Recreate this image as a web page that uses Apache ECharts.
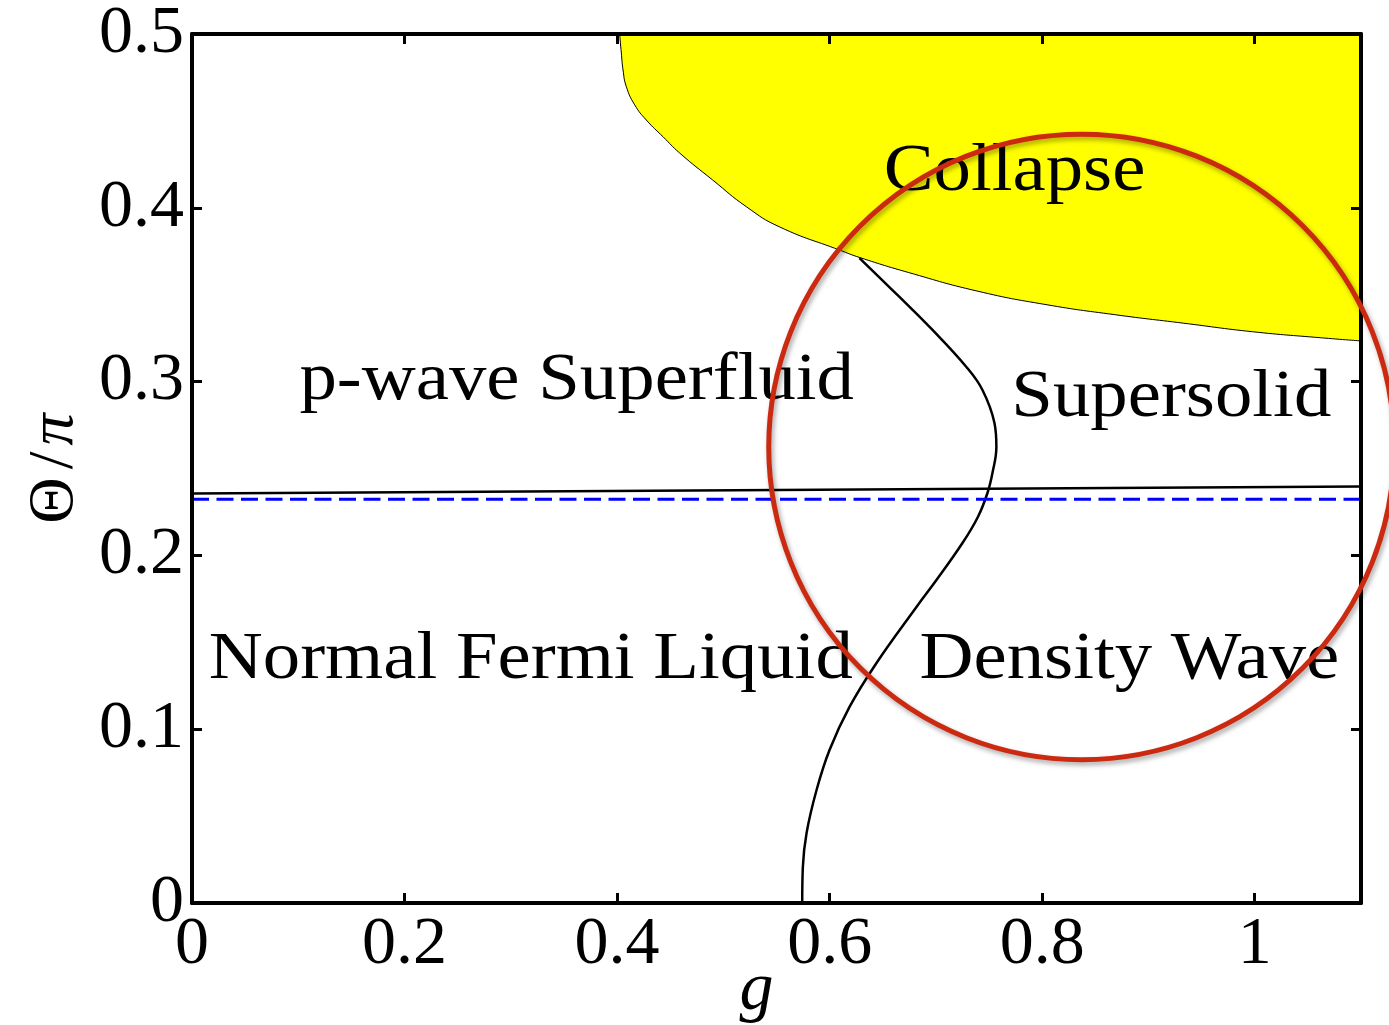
<!DOCTYPE html>
<html>
<head>
<meta charset="utf-8">
<script src="https://cdn.jsdelivr.net/npm/echarts@6/dist/echarts.min.js"></script>
<style>
  html, body { margin: 0; padding: 0; background: #ffffff; }
  #chart { width: 1389px; height: 1025px; }
</style>
</head>
<body>
<div id="chart"></div>
<script>
// Phase diagram of dipolar fermions: coupling g vs. tilt angle Θ/π

// Collapse boundary (region above is filled)
const collapseG     = [0.4024, 0.4040, 0.4056, 0.4087, 0.4166, 0.4275, 0.4432, 0.4589, 0.4899, 0.5219, 0.5529, 0.6093, 0.6288, 0.6741, 0.7388, 0.8036, 0.8684, 0.9332, 0.9979, 1.0626, 1.1];
const collapseTheta = [0.5000, 0.4891, 0.4793, 0.4697, 0.4592, 0.4505, 0.4409, 0.4315, 0.4160, 0.4005, 0.3890, 0.3757, 0.3713, 0.3628, 0.3521, 0.3443, 0.3385, 0.3336, 0.3287, 0.3252, 0.3234];

// Density-wave instability line
const dwG     = [0.6281, 0.6657, 0.6968, 0.7287, 0.7438, 0.7551, 0.7569, 0.7532, 0.7485, 0.7395, 0.7250, 0.7005, 0.6817, 0.6441, 0.6187, 0.5999, 0.5877, 0.5783, 0.5748, 0.5742];
const dwTheta = [0.3711, 0.3487, 0.3297, 0.3084, 0.2952, 0.2762, 0.2624, 0.2474, 0.2359, 0.2221, 0.2071, 0.1858, 0.1703, 0.1381, 0.1128, 0.0880, 0.0650, 0.0403, 0.0207, 0.0];

// p-wave superfluid onset
const sfG     = [0, 1.1];
const sfTheta = [0.2356, 0.2396];

// Weak-coupling superfluid onset (dashed)
const bcsG     = [0, 1.1];
const bcsTheta = [0.2323, 0.2323];

// Phase names and where they sit
const labelText  = ['Collapse', 'p-wave Superfluid', 'Supersolid', 'Normal Fermi Liquid', 'Density Wave'];
const labelG     = [0.774, 0.362, 0.9215, 0.3188, 0.882];
const labelTheta = [0.4205, 0.3005, 0.2905, 0.1400, 0.1400];

// Highlight ring: centre (g, Θ/π) and radius in units of g
const ringG = 0.837;
const ringTheta = 0.2624;
const ringRadiusG = 0.2943;

// Axis ranges and ticks
const gMin = 0, gMax = 1.1, gStep = 0.2;
const tMin = 0, tMax = 0.5, tStep = 0.1;

const SERIF = "'Liberation Serif', 'Times New Roman', serif";
const pairs = (xs, ys) => xs.map((x, i) => [x, ys[i]]);
const fmt = v => String(+(+v).toFixed(2));

function axisCommon(extra) {
  return Object.assign({
    type: 'value',
    splitLine: { show: false },
    axisLine: { show: true, onZero: false, lineStyle: { color: '#000', width: 4 } },
    axisTick: { show: true, inside: true, length: 10, lineStyle: { color: '#000', width: 3 } },
    z: 5
  }, extra);
}

const chart = echarts.init(document.getElementById('chart'), null, { renderer: 'canvas' });

chart.setOption({
  backgroundColor: '#ffffff',
  animation: false,
  grid: { left: 192, right: 28, top: 34, bottom: 122, containLabel: false, outerBoundsMode: 'none' },
  xAxis: [
    axisCommon({
      position: 'bottom', min: gMin, max: gMax, interval: gStep,
      name: 'g', nameLocation: 'middle', nameGap: 54, nameMoveOverlap: false,
      nameTextStyle: { fontFamily: SERIF, fontStyle: 'italic', fontSize: 68, color: '#000', padding: [0, 40, 0, 0] },
      axisLabel: { fontFamily: SERIF, fontSize: 68, color: '#000', margin: 8, showMaxLabel: false, formatter: fmt }
    }),
    axisCommon({
      position: 'top', min: gMin, max: gMax, interval: gStep,
      axisLabel: { show: false }
    })
  ],
  yAxis: [
    axisCommon({
      position: 'left', min: tMin, max: tMax, interval: tStep,
      name: '{t|Θ}{s|/}{p|π}', nameLocation: 'middle', nameRotate: 90, nameGap: 105, nameMoveOverlap: false,
      nameTextStyle: {
        color: '#000',
        rich: {
          t: { fontFamily: SERIF, fontSize: 64, color: '#000', padding: [0, 8, 0, 0] },
          s: { fontFamily: SERIF, fontSize: 64, color: '#000', padding: [0, 6, 0, 0] },
          p: { fontFamily: SERIF, fontSize: 64, fontStyle: 'italic', color: '#000' }
        }
      },
      axisLabel: { fontFamily: SERIF, fontSize: 68, color: '#000', margin: 8, formatter: fmt }
    }),
    axisCommon({
      position: 'right', min: tMin, max: tMax, interval: tStep,
      axisLabel: { show: false }
    })
  ],
  series: [
    {
      name: 'Collapse',
      type: 'line',
      data: pairs(collapseG, collapseTheta),
      smooth: 0.5,
      symbol: 'none',
      lineStyle: { color: '#000', width: 1 },
      areaStyle: { origin: 'end', color: '#ffff00', opacity: 1 },
      z: 2,
      silent: true
    },
    {
      name: 'Density wave',
      type: 'line',
      data: pairs(dwG, dwTheta),
      smooth: 0.4,
      symbol: 'none',
      lineStyle: { color: '#000', width: 2.5 },
      z: 3,
      silent: true
    },
    {
      name: 'Superfluid',
      type: 'line',
      data: pairs(sfG, sfTheta),
      symbol: 'none',
      lineStyle: { color: '#000', width: 2.5 },
      z: 3,
      silent: true
    },
    {
      name: 'Weak coupling',
      type: 'line',
      data: pairs(bcsG, bcsTheta),
      symbol: 'none',
      lineStyle: { color: '#0000ff', width: 3, type: [17, 7.5] },
      z: 3,
      silent: true
    },
    {
      name: 'Phase names',
      type: 'custom',
      coordinateSystem: 'cartesian2d',
      clip: false,
      silent: true,
      z: 4,
      data: labelG.map((g, i) => [g, labelTheta[i]]),
      encode: { x: 0, y: 1 },
      renderItem: (params, api) => {
        const p = api.coord([api.value(0), api.value(1)]);
        return {
          type: 'text',
          x: p[0], y: p[1],
          scaleX: 1.1,
          style: {
            text: labelText[params.dataIndex],
            font: "68px " + SERIF,
            fill: '#000',
            align: 'center',
            verticalAlign: 'middle'
          }
        };
      }
    },
    {
      name: 'Ring',
      type: 'custom',
      coordinateSystem: 'cartesian2d',
      clip: false,
      silent: true,
      z: 10,
      data: [[ringG, ringTheta, ringRadiusG]],
      encode: { x: 0, y: 1 },
      renderItem: (params, api) => {
        const c = api.coord([api.value(0), api.value(1)]);
        const r = api.size([api.value(2), 0])[0];
        return {
          type: 'circle',
          shape: { cx: c[0], cy: c[1], r: r },
          style: {
            fill: 'none',
            stroke: '#cc2a10',
            lineWidth: 5,
            shadowBlur: 5,
            shadowColor: 'rgba(0,0,0,0.35)',
            shadowOffsetX: 2,
            shadowOffsetY: 3
          }
        };
      }
    }
  ]
});
</script>
</body>
</html>
